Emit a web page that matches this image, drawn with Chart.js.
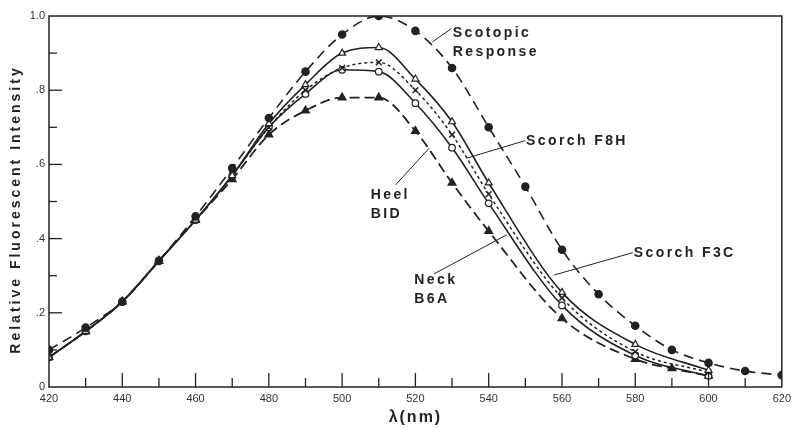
<!DOCTYPE html>
<html>
<head>
<meta charset="utf-8">
<script src="https://cdn.jsdelivr.net/npm/chart.js@4/dist/chart.umd.min.js"></script>
<style>
  html, body { margin: 0; padding: 0; background: #fff; }
  #wrap { width: 796px; height: 428px; }
</style>
</head>
<body>
<div id="wrap"><canvas id="chart" width="796" height="428"></canvas></div>
<script>
// --- data ---
const scotopicNm  = [420, 430, 440, 450, 460, 470, 480, 490, 500, 510, 520, 530, 540, 550, 560, 570, 580, 590, 600, 610, 620];
const scotopicVal = [0.10, 0.16, 0.23, 0.34, 0.46, 0.59, 0.725, 0.85, 0.95, 1.0, 0.96, 0.86, 0.70, 0.54, 0.37, 0.25, 0.165, 0.10, 0.065, 0.043, 0.032];

const bandNm  = [420, 430, 440, 450, 460, 470, 480, 490, 500, 510, 520, 530, 540, 560, 580, 600];
const f8hVal  = [0.08, 0.15, 0.23, 0.34, 0.45, 0.57, 0.71, 0.815, 0.90, 0.915, 0.83, 0.715, 0.55, 0.255, 0.115, 0.045];
const f3cVal  = [0.08, 0.15, 0.23, 0.34, 0.45, 0.57, 0.70, 0.80, 0.86, 0.875, 0.80, 0.68, 0.52, 0.24, 0.095, 0.04];
const heelVal = [0.08, 0.15, 0.23, 0.34, 0.45, 0.57, 0.70, 0.79, 0.855, 0.85, 0.765, 0.645, 0.495, 0.22, 0.085, 0.03];

const neckNm  = [420, 430, 440, 450, 460, 470, 480, 490, 500, 510, 520, 530, 540, 560, 580, 590, 600];
const neckVal = [0.08, 0.15, 0.23, 0.34, 0.45, 0.56, 0.68, 0.745, 0.78, 0.78, 0.69, 0.55, 0.42, 0.185, 0.075, 0.05, 0.03];

const yTickLabels = { 0: '0', 2: '.2', 4: '.4', 6: '.6', 8: '.8', 10: '1.0' };

// labels with pointer lines (in data units: nm, intensity)
const notes = [
  { lines: ['Scotopic', 'Response'], at: [530.2, 0.955], from: [529.8, 0.966], to: [524.6, 0.93] },
  { lines: ['Scorch F8H'], at: [550.2, 0.664], from: [549.9, 0.664], to: [534.1, 0.617] },
  { lines: ['Heel', 'BID'], at: [507.8, 0.516], from: [514.6, 0.545], to: [523.8, 0.644] },
  { lines: ['Neck', 'B6A'], at: [519.7, 0.288], from: [525.1, 0.305], to: [544.9, 0.41] },
  { lines: ['Scorch F3C'], at: [579.6, 0.362], from: [579.3, 0.362], to: [557.9, 0.302] }
];

const ink = '#222';
const pts = (xs, ys) => xs.map((x, i) => ({ x: x, y: ys[i] }));

// tick marks inside the frame + frame + texts
const decor = {
  id: 'decor',
  afterDraw(chart) {
    const { ctx, chartArea: a, scales: { x, y } } = chart;
    ctx.save();
    ctx.strokeStyle = ink;
    ctx.lineWidth = 1.5;
    ctx.strokeRect(a.left, a.top, a.right - a.left, a.bottom - a.top);

    ctx.lineWidth = 1.3;
    for (let i = 1; i < 10; i++) {
      const py = y.getPixelForValue(i / 10);
      const len = i % 2 === 0 ? 13 : 8;
      ctx.beginPath(); ctx.moveTo(a.left, py); ctx.lineTo(a.left + len, py); ctx.stroke();
    }
    for (let v = 430; v < 620; v += 10) {
      const px = x.getPixelForValue(v);
      const len = v % 20 === 0 ? 14 : 9;
      ctx.beginPath(); ctx.moveTo(px, a.bottom); ctx.lineTo(px, a.bottom - len); ctx.stroke();
    }

    // notes
    ctx.fillStyle = ink;
    ctx.font = 'bold 14px "Liberation Sans", Arial, sans-serif';
    ctx.letterSpacing = '2.4px';
    ctx.textBaseline = 'middle';
    ctx.textAlign = 'left';
    ctx.lineWidth = 1;
    notes.forEach(n => {
      const tx = x.getPixelForValue(n.at[0]);
      const ty = y.getPixelForValue(n.at[1]);
      n.lines.forEach((t, i) => ctx.fillText(t, tx, ty + i * 19));
      ctx.beginPath();
      ctx.moveTo(x.getPixelForValue(n.from[0]), y.getPixelForValue(n.from[1]));
      ctx.lineTo(x.getPixelForValue(n.to[0]), y.getPixelForValue(n.to[1]));
      ctx.stroke();
    });

    // axis titles
    ctx.font = 'bold 14px "Liberation Sans", Arial, sans-serif';
    ctx.letterSpacing = '3px';
    ctx.textAlign = 'center';
    ctx.save();
    ctx.translate(16, (a.top + a.bottom) / 2 + 8);
    ctx.rotate(-Math.PI / 2);
    ctx.fillText('Relative Fluorescent Intensity', 0, 0);
    ctx.restore();
    ctx.font = 'bold 16px "Liberation Sans", Arial, sans-serif';
    ctx.letterSpacing = '2px';
    ctx.fillText('λ(nm)', x.getPixelForValue(520), 418);
    ctx.restore();
  }
};

new Chart(document.getElementById('chart'), {
  type: 'line',
  data: {
    datasets: [
      { label: 'Scotopic Response', data: pts(scotopicNm, scotopicVal), borderDash: [10, 6], borderWidth: 1.6,
        pointStyle: 'circle', pointRadius: 3.5, pointBackgroundColor: ink, pointBorderColor: ink },
      { label: 'Scorch F8H', data: pts(bandNm, f8hVal), borderWidth: 1.6,
        pointStyle: 'triangle', pointRadius: 4, pointBackgroundColor: '#fff', pointBorderColor: ink, pointBorderWidth: 1.2 },
      { label: 'Scorch F3C', data: pts(bandNm, f3cVal), borderDash: [3, 3], borderWidth: 1.5,
        pointStyle: 'crossRot', pointRadius: 4, pointBorderColor: ink, pointBorderWidth: 1.5 },
      { label: 'Heel BID', data: pts(bandNm, heelVal), borderWidth: 1.6,
        pointStyle: 'circle', pointRadius: 3.3, pointBackgroundColor: '#fff', pointBorderColor: ink, pointBorderWidth: 1.2 },
      { label: 'Neck B6A', data: pts(neckNm, neckVal), borderDash: [10, 5], borderWidth: 1.8,
        pointStyle: 'triangle', pointRadius: 4, pointBackgroundColor: ink, pointBorderColor: ink }
    ].map(d => Object.assign({ borderColor: ink, fill: false, cubicInterpolationMode: 'monotone' }, d))
  },
  options: {
    responsive: false,
    animation: false,
    layout: { padding: { top: 16, right: 9, left: 0, bottom: 0 } },
    plugins: { legend: { display: false }, tooltip: { enabled: false } },
    scales: {
      x: {
        type: 'linear', min: 420, max: 620,
        afterFit: s => { s.height = 41; },
        grid: { display: false, drawTicks: false },
        border: { display: false },
        ticks: { stepSize: 10, autoSkip: false, maxRotation: 0, padding: 5, color: '#333',
                 font: { size: 11, family: '"Liberation Sans", Arial' },
                 callback: v => (v % 20 === 0 ? String(v) : '') }
      },
      y: {
        min: 0, max: 1,
        afterFit: s => { s.width = 49; },
        grid: { display: false, drawTicks: false },
        border: { display: false },
        ticks: { stepSize: 0.1, autoSkip: false, padding: 4, color: '#333',
                 font: { size: 11, family: '"Liberation Sans", Arial' },
                 callback: v => yTickLabels[Math.round(v * 10)] || '' }
      }
    }
  },
  plugins: [decor]
});
</script>
</body>
</html>
